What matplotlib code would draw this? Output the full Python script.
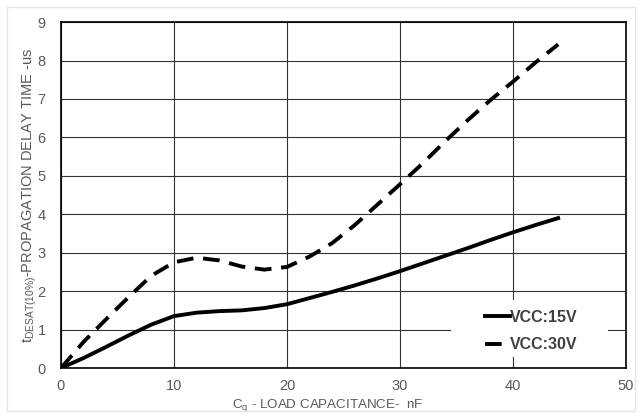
import matplotlib.pyplot as plt
from matplotlib.patches import Rectangle

plt.rcParams['font.family'] = ['Liberation Sans', 'DejaVu Sans']

# load capacitance (nF)
cap = [0, 2, 4, 6, 8, 10, 12, 14, 16, 18, 20, 22, 24, 26, 28, 30, 32, 34, 36, 38, 40, 42, 44]
# propagation delay (us)
vcc15 = [0, 0.26, 0.55, 0.85, 1.13, 1.35, 1.44, 1.48, 1.50, 1.56, 1.66, 1.82, 1.98,
         2.15, 2.33, 2.52, 2.72, 2.92, 3.12, 3.33, 3.53, 3.72, 3.90]
vcc30 = [0, 0.68, 1.27, 1.85, 2.40, 2.75, 2.87, 2.80, 2.64, 2.56, 2.63, 2.90, 3.25,
         3.72, 4.25, 4.78, 5.32, 5.90, 6.45, 6.97, 7.45, 7.95, 8.42]

fig = plt.figure(figsize=(6.42, 4.18), dpi=100)
ax = fig.add_axes([0.095, 0.1196, 0.880, 0.8275])

ax.plot(cap, vcc15, color='black', lw=2.8, label='VCC:15V')
ax.plot(cap, vcc30, color='black', lw=2.8, ls=(0, (4.3, 2.5)), label='VCC:30V')

ax.set_xlim(0, 50)
ax.set_ylim(0, 9)
ax.set_xticks(range(0, 51, 10))
ax.set_yticks(range(0, 10))
ax.grid(True, color='#333333', lw=0.8)
ax.tick_params(length=0, labelsize=10.5, labelcolor='#595959')
ax.tick_params(axis='x', pad=8)
ax.tick_params(axis='y', pad=11)
for s in ax.spines.values():
    s.set_color('black')
    s.set_linewidth(1.2)

ax.set_xlabel('C$_\\mathregular{g}$ - LOAD CAPACITANCE-  nF', fontsize=9.6,
              color='#595959')
ax.xaxis.set_label_coords(0.473, -0.085)
ax.set_ylabel('t$_\\mathregular{DESAT(10\\%)}$-PROPAGATION DELAY TIME -us', fontsize=10.5,
              color='#595959', labelpad=-1)

# white patch behind the legend, hides the grid there
ax.add_patch(Rectangle((0.69, 0.032), 0.278, 0.165, transform=ax.transAxes,
                       facecolor='white', edgecolor='none', zorder=3))
leg = ax.legend(loc='lower right', bbox_to_anchor=(0.915, 0.045), frameon=False,
                prop={'weight': 'bold', 'size': 11.5}, handlelength=1.6,
                handletextpad=0.0, borderpad=0, borderaxespad=0, labelspacing=0.8)
leg.set_zorder(5)
for t in leg.get_texts():
    t.set_color('#404040')

fig.patches.append(Rectangle((0.011, 0.017), 0.978, 0.966, transform=fig.transFigure,
                             fill=False, edgecolor='#e6e6e6', lw=1))

plt.savefig('out.png', dpi=100)
plt.close()
